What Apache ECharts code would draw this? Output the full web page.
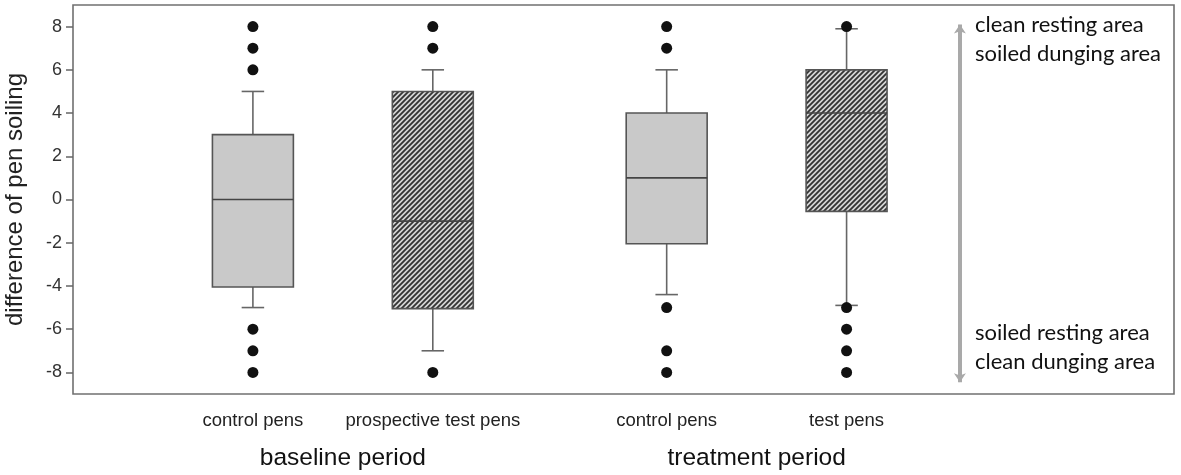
<!DOCTYPE html>
<html>
<head>
<meta charset="utf-8">
<script src="https://cdn.jsdelivr.net/npm/echarts@6/dist/echarts.min.js"></script>
<style>
  html, body { margin: 0; padding: 0; background: #fff; }
  #chart { width: 1181px; height: 475px; }
</style>
</head>
<body>
<div id="chart"></div>
<script>
// group positions on the x axis (1 unit = distance between paired boxes)
const positions = [1, 2, 3.3, 4.3];
const categories = ['control pens', 'prospective test pens', 'control pens', 'test pens'];
const periodPositions = [1.5, 3.8];
const periods = ['baseline period', 'treatment period'];

const whiskerLow = [-5, -7, -4.4, -4.9];
const q1 = [-4.05, -5.05, -2.05, -0.55];
const median = [0, -1, 1, 4];
const q3 = [3, 5, 4, 6];
const whiskerHigh = [5, 6, 6, 7.9];
const hatched = [false, true, false, true];
const outliers = [
    [8, 7, 6, -6, -7, -8],
    [8, 7, -8],
    [8, 7, -5, -7, -8],
    [8, -5, -6, -7, -8]
];
const yTicks = [-8, -6, -4, -2, 0, 2, 4, 6, 8];

// diagonal hatch tile
function makeHatch() {
    const c = document.createElement('canvas');
    c.width = 5; c.height = 5;
    const g = c.getContext('2d');
    g.fillStyle = '#d6d6d6';
    g.fillRect(0, 0, 5, 5);
    g.strokeStyle = '#333';
    g.lineWidth = 1.8;
    g.beginPath();
    g.moveTo(-1, 6); g.lineTo(6, -1);
    g.moveTo(-1, 1); g.lineTo(1, -1);
    g.moveTo(4, 6); g.lineTo(6, 4);
    g.stroke();
    return c;
}
const hatch = makeHatch();

const boxData = positions.map((p, i) => [p, whiskerLow[i], q1[i], median[i], q3[i], whiskerHigh[i]]);
const outlierData = [];
positions.forEach((p, i) => outliers[i].forEach(v => outlierData.push([p, v])));

function renderBox(params, api) {
    const x = api.value(0);
    const half = api.size([0.45, 0])[0] / 2;
    const cap = api.size([0.125, 0])[0] / 2;
    const lo = api.coord([x, api.value(1)]);
    const b1 = api.coord([x, api.value(2)]);
    const md = api.coord([x, api.value(3)]);
    const b3 = api.coord([x, api.value(4)]);
    const hi = api.coord([x, api.value(5)]);
    const cx = lo[0];
    const lineStyle = { stroke: '#666', lineWidth: 1.6 };
    const fill = hatched[params.dataIndex] ? { image: hatch, repeat: 'repeat' } : '#c9c9c9';
    return {
        type: 'group',
        children: [
            { type: 'line', shape: { x1: cx, y1: lo[1], x2: cx, y2: b1[1] }, style: lineStyle },
            { type: 'line', shape: { x1: cx, y1: b3[1], x2: cx, y2: hi[1] }, style: lineStyle },
            { type: 'line', shape: { x1: cx - cap, y1: lo[1], x2: cx + cap, y2: lo[1] }, style: lineStyle },
            { type: 'line', shape: { x1: cx - cap, y1: hi[1], x2: cx + cap, y2: hi[1] }, style: lineStyle },
            {
                type: 'rect',
                shape: { x: cx - half, y: b3[1], width: half * 2, height: b1[1] - b3[1] },
                style: { fill: fill, stroke: '#555', lineWidth: 1.6 }
            },
            { type: 'line', shape: { x1: cx - half, y1: md[1], x2: cx + half, y2: md[1] }, style: { stroke: '#444', lineWidth: 1.6 } }
        ]
    };
}

function nameAt(list, names) {
    return function (v) {
        const i = list.findIndex(p => Math.abs(p - v) < 1e-6);
        return i < 0 ? '' : names[i];
    };
}

const chart = echarts.init(document.getElementById('chart'), null, { renderer: 'canvas' });
const option = {
    animation: false,
    backgroundColor: '#fff',
    grid: {
        show: true,
        left: 73, right: 7, top: 5, bottom: 81,
        containLabel: false,
        outerBoundsMode: 'none',
        borderColor: '#707070',
        borderWidth: 1.6
    },
    xAxis: [
        {
            type: 'value', min: 0, max: 6.12,
            axisLine: { show: false },
            splitLine: { show: false },
            axisTick: { show: true, customValues: positions, length: 6, lineStyle: { color: '#666', width: 1.5 } },
            axisLabel: {
                customValues: positions,
                formatter: nameAt(positions, categories),
                margin: 17,
                fontFamily: 'Liberation Sans',
                fontSize: 18.5,
                color: '#222'
            }
        },
        {
            type: 'value', min: 0, max: 6.12, position: 'bottom',
            axisLine: { show: false },
            splitLine: { show: false },
            axisTick: { show: false },
            axisLabel: {
                customValues: periodPositions,
                formatter: nameAt(periodPositions, periods),
                margin: 52,
                fontFamily: 'Liberation Sans',
                fontSize: 24.5,
                color: '#111'
            }
        }
    ],
    yAxis: {
        type: 'value', min: -9, max: 9,
        name: 'difference of pen soiling',
        nameLocation: 'middle',
        nameGap: 46,
        nameTextStyle: { fontFamily: 'Liberation Sans', fontSize: 24, color: '#222' },
        axisLine: { show: false },
        splitLine: { show: false },
        axisTick: { show: true, customValues: yTicks, length: 7, lineStyle: { color: '#666', width: 1.5 } },
        axisLabel: {
            customValues: yTicks,
            margin: 11,
            fontFamily: 'Liberation Sans',
            fontSize: 18,
            color: '#333'
        }
    },
    series: [
        {
            type: 'custom',
            renderItem: renderBox,
            encode: { x: 0, y: [1, 2, 3, 4, 5] },
            data: boxData,
            z: 2
        },
        {
            type: 'scatter',
            data: outlierData,
            symbolSize: 11,
            itemStyle: { color: '#111', opacity: 1 },
            z: 3,
            markLine: {
                silent: true,
                symbol: ['arrow', 'arrow'],
                symbolSize: [9, 9],
                label: { show: false },
                lineStyle: { color: '#a9a9a9', width: 4, type: 'solid' },
                data: [[{ coord: [4.93, 8.1] }, { coord: [4.93, -8.46] }]]
            }
        }
    ],
    graphic: [
        { type: 'text', left: 975, top: 10, style: { text: 'clean resting area\nsoiled dunging area', font: '22px Lato', lineHeight: 29, fill: '#111' } },
        { type: 'text', left: 975, top: 318, style: { text: 'soiled resting area\nclean dunging area', font: '22px Lato', lineHeight: 29, fill: '#111' } }
    ]
};
chart.setOption(option);
</script>
</body>
</html>
